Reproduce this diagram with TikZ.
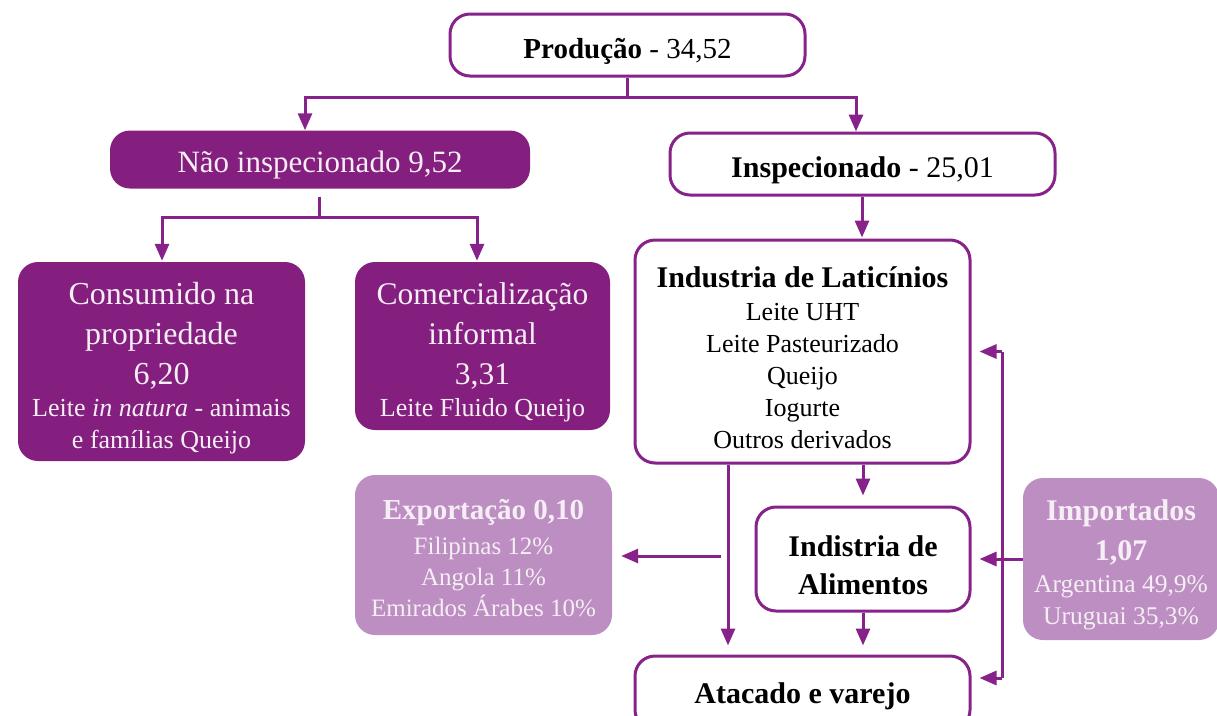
\documentclass[tikz,border=0pt]{standalone}
\usepackage{fontspec}
\setmainfont{Liberation Serif}
\usetikzlibrary{arrows.meta}
\definecolor{lineP}{HTML}{87228A}
\definecolor{darkP}{HTML}{841F80}
\definecolor{lightP}{HTML}{BC8EC1}
\definecolor{txtW}{HTML}{F6EEF5}
\newcommand{\SubC}{\fontsize{26}{32}\selectfont}
\newcommand{\SubI}{\mdseries\fontsize{25.5}{32}\selectfont}
\begin{document}
\begin{tikzpicture}[x=1pt,y=-1pt,
  wbox/.style={draw=lineP, line width=3pt, rounded corners=20pt, fill=white,
    inner sep=0pt},
  dbox/.style={fill=darkP, draw=none, rounded corners=20pt, inner sep=0pt},
  lbox/.style={fill=lightP, draw=none, rounded corners=20pt, inner sep=0pt},
  tb/.style={align=center, inner sep=0pt, text=black},
  tw/.style={align=center, inner sep=0pt, text=txtW},
  conn/.style={draw=lineP, line width=3pt},
  arr/.style={conn, -{Triangle[length=17pt,width=14pt]}}]
\useasboundingbox (0,0) rectangle (1217,715);
\clip (0,0) rectangle (1217,715);

% boxes
\node[wbox, minimum width=355pt, minimum height=62pt] (prod) at (627.5,45) {};
\node[dbox, minimum width=420pt, minimum height=58pt] (nao) at (320,159.5) {};
\node[wbox, minimum width=385pt, minimum height=62pt] (insp) at (862.5,164) {};
\node[dbox, minimum width=287pt, minimum height=199pt] (cons) at (161.5,361.5) {};
\node[dbox, minimum width=255pt, minimum height=168pt] (com) at (482.5,346) {};
\node[wbox, minimum width=335pt, minimum height=223pt] (lat) at (802.5,351.5) {};
\node[lbox, minimum width=257pt, minimum height=160pt] (exp) at (483.5,555) {};
\node[wbox, minimum width=214pt, minimum height=104pt] (alim) at (863,559) {};
\node[lbox, minimum width=196pt, minimum height=162pt] (imp) at (1121,559) {};
\node[wbox, minimum width=335pt, minimum height=74pt] (ata) at (802.5,693) {};

% texts
\node[tb, font=\fontsize{29}{40}\selectfont] (prodT) at ([yshift=-6pt]prod.center)
  {\textbf{Produção} - 34,52};
\node[tw, font=\fontsize{31}{40}\selectfont] (naoT) at ([yshift=-6pt]nao.center)
  {Não inspecionado 9,52};
\node[tb, font=\fontsize{30}{40}\selectfont] (inspT) at ([yshift=-6pt]insp.center)
  {\textbf{Inspecionado} - 25,01};
\node[tw, font=\fontsize{32}{40}\selectfont] (consT) at ([yshift=-7pt]cons.center)
  {Consumido na\\propriedade\\6,20\\[-8pt]{\SubC Leite \textit{in natura} - animais}\\[-8pt]{\SubC e famílias Queijo}};
\node[tw, font=\fontsize{31.5}{40}\selectfont] (comT) at ([yshift=-6pt]com.center)
  {Comercialização\\informal\\3,31\\[-8pt]{\SubC Leite Fluido Queijo}};
\node[tb, font=\fontsize{26}{32}\selectfont] (latT) at ([yshift=-6pt]lat.center)
  {{\fontsize{30}{32}\selectfont\bfseries Industria de Laticínios}\\[1pt]Leite UHT\\Leite Pasteurizado\\Queijo\\Iogurte\\Outros derivados};
\node[tw, font=\fontsize{25}{31}\selectfont] (expT) at ([yshift=-3pt]exp.center)
  {{\fontsize{29}{31}\selectfont\bfseries Exportação 0,10}\\[4pt]Filipinas 12\%\\Angola 11\%\\Emirados Árabes 10\%};
\node[tb, font=\fontsize{30}{38}\selectfont\bfseries] (alimT) at ([yshift=-6pt]alim.center)
  {Indistria de\\Alimentos};
\node[tw, font=\fontsize{30}{40}\selectfont\bfseries] (impT) at ([yshift=-6pt]imp.center)
  {Importados\\1,07\\[-8pt]{\SubI Argentina 49,9\%}\\[-8pt]{\SubI Uruguai 35,3\%}};
\node[tb, font=\fontsize{30}{34}\selectfont\bfseries] (ataT) at ([yshift=-3pt]ata.center)
  {Atacado e varejo};

% connectors
\coordinate (pj) at (627.5,97);
\draw[conn] (prod.south) -- (pj);
\draw[arr] (pj) -| ([xshift=-15pt]nao.north);
\draw[arr] (pj) -| ([xshift=-6.5pt]insp.north);

\coordinate (nj) at (319,217);
\draw[conn] ([yshift=-8pt]nao.south -| nj) -- (nj);
\draw[arr, shorten >=1pt] (nj) -| ([xshift=0.5pt]cons.north);
\draw[arr, shorten >=1pt] (nj) -| ([xshift=-5.5pt]com.north);

\draw[arr, shorten >=1pt] ([xshift=-0.5pt]insp.south) -- ([xshift=-0.5pt]insp.south |- lat.north);
\draw[arr, shorten >=10pt] (lat.south -| alim.north) -- (alim.north);
\draw[arr, shorten >=9pt] (alim.south) -- (alim.south |- ata.north);

\coordinate (lx) at (728,0);
\draw[arr, shorten >=9pt] (lat.south -| lx) -- (ata.north -| lx);
\coordinate (ex) at (721,556);
\draw[arr, shorten >=9pt] (ex) -- (ex -| exp.east);

\coordinate (it) at (1002,351.5);
\coordinate (ib) at (1002,678);
\draw[conn] (it) -- (ib);
\draw[arr, shorten >=8pt] (it) -- (it -| lat.east);
\draw[arr, shorten >=8pt] (ib) -- (ib -| ata.east);
\draw[arr, shorten >=8pt] (imp.west) -- (imp.west -| alim.east);
\end{tikzpicture}
\end{document}
